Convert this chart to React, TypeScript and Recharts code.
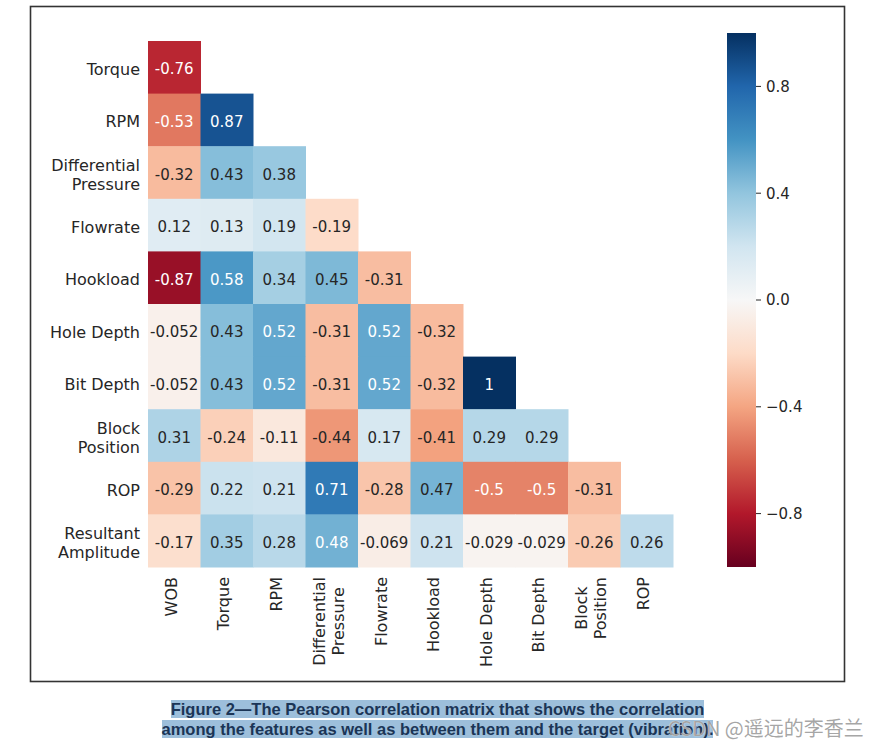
import React from 'react';
import { ScatterChart, Scatter, XAxis, YAxis, BarChart, Bar } from 'recharts';

// feature names (row = y axis, col = x axis)
const rowLabels = ['Torque', 'RPM', 'Differential\nPressure', 'Flowrate', 'Hookload', 'Hole Depth', 'Bit Depth', 'Block\nPosition', 'ROP', 'Resultant\nAmplitude'];
const colLabels = ['WOB', 'Torque', 'RPM', 'Differential\nPressure', 'Flowrate', 'Hookload', 'Hole Depth', 'Bit Depth', 'Block\nPosition', 'ROP'];

// lower triangle of the Pearson matrix, one array per row
const torqueRow = [-0.76];
const rpmRow = [-0.53, 0.87];
const diffPressureRow = [-0.32, 0.43, 0.38];
const flowrateRow = [0.12, 0.13, 0.19, -0.19];
const hookloadRow = [-0.87, 0.58, 0.34, 0.45, -0.31];
const holeDepthRow = [-0.052, 0.43, 0.52, -0.31, 0.52, -0.32];
const bitDepthRow = [-0.052, 0.43, 0.52, -0.31, 0.52, -0.32, 1];
const blockPositionRow = [0.31, -0.24, -0.11, -0.44, 0.17, -0.41, 0.29, 0.29];
const ropRow = [-0.29, 0.22, 0.21, 0.71, -0.28, 0.47, -0.5, -0.5, -0.31];
const amplitudeRow = [-0.17, 0.35, 0.28, 0.48, -0.069, 0.21, -0.029, -0.029, -0.26, 0.26];

const matrixRows = [torqueRow, rpmRow, diffPressureRow, flowrateRow, hookloadRow, holeDepthRow, bitDepthRow, blockPositionRow, ropRow, amplitudeRow];

const colorbarTicks = [-0.8, -0.4, 0, 0.4, 0.8];

// matplotlib RdBu
const RDBU = ['#67001f', '#b2182b', '#d6604d', '#f4a582', '#fddbc7', '#f7f7f7', '#d1e5f0', '#92c5de', '#4393c3', '#2166ac', '#053061'];

const hexToRgb = (h: string) => [1, 3, 5].map((i) => parseInt(h.slice(i, i + 2), 16));

const rdbu = (v: number) => {
  const t = Math.max(0, Math.min(1, (v + 1) / 2)) * 10;
  const i = Math.min(9, Math.floor(t));
  const f = t - i;
  const a = hexToRgb(RDBU[i]);
  const b = hexToRgb(RDBU[i + 1]);
  return a.map((c, k) => Math.round(c + (b[k] - c) * f));
};

const luminance = (rgb: number[]) => {
  const lin = rgb.map((c) => {
    const s = c / 255;
    return s <= 0.03928 ? s / 12.92 : Math.pow((s + 0.055) / 1.055, 2.4);
  });
  return 0.2126 * lin[0] + 0.7152 * lin[1] + 0.0722 * lin[2];
};

// python ".2g"
const fmt2g = (v: number) => {
  let s = v.toPrecision(2);
  if (s.includes('.')) s = s.replace(/0+$/, '').replace(/\.$/, '');
  return s;
};

const cells = matrixRows.flatMap((row, r) =>
  row.map((v, c) => ({ x: c + 0.5, y: r + 0.5, v }))
);

const FONT = '"DejaVu Sans", sans-serif';
const TEXT = '#262626';
const LABEL_SIZE = 16;

const CHART_W = 700;
const CHART_H = 680;
const MARGIN = { top: 41, right: 27, bottom: 13, left: 0 };
const Y_AXIS_W = 148;
const X_AXIS_H = 100;
const CELL_W = (CHART_W - MARGIN.left - MARGIN.right - Y_AXIS_W) / 10;
const CELL_H = (CHART_H - MARGIN.top - MARGIN.bottom - X_AXIS_H) / 10;

let ctx: CanvasRenderingContext2D | null = null;
const textWidth = (s: string) => {
  if (!ctx) {
    ctx = document.createElement('canvas').getContext('2d');
  }
  if (!ctx) return s.length * 9;
  ctx.font = `${LABEL_SIZE}px ${FONT}`;
  return ctx.measureText(s).width;
};

const CellShape = (props: any) => {
  const { cx, cy, payload } = props;
  const rgb = rdbu(payload.v);
  const txt = luminance(rgb) > 0.412 ? TEXT : '#ffffff';
  return (
    <g>
      <rect x={cx - CELL_W / 2} y={cy - CELL_H / 2} width={CELL_W + 0.5} height={CELL_H + 0.5} fill={`rgb(${rgb.join(',')})`} />
      <text x={cx} y={cy + 2} textAnchor="middle" dominantBaseline="central" fontSize={15} fontFamily={FONT} fill={txt}>
        {fmt2g(payload.v)}
      </text>
    </g>
  );
};

const YTick = (props: any) => {
  const { x, y, payload } = props;
  const lines = rowLabels[Math.floor(payload.value)].split('\n');
  return (
    <g>
      {lines.map((l, i) => (
        <text key={i} x={x} y={y + 2 + (i - (lines.length - 1) / 2) * 19} textAnchor="end" dominantBaseline="central" fontSize={LABEL_SIZE} fontFamily={FONT} fill={TEXT}>
          {l}
        </text>
      ))}
    </g>
  );
};

const XTick = (props: any) => {
  const { x, y, payload } = props;
  const lines = colLabels[Math.floor(payload.value)].split('\n');
  const top = y + 2;
  const block = Math.max(...lines.map(textWidth));
  return (
    <g>
      {lines.map((l, i) => {
        const lx = x - 3 + (i - (lines.length - 1) / 2) * 19;
        const ly = top + block / 2;
        return (
          <text key={i} x={lx} y={ly} transform={`rotate(-90, ${lx}, ${ly})`} textAnchor="middle" dominantBaseline="central" fontSize={LABEL_SIZE} fontFamily={FONT} fill={TEXT}>
            {l}
          </text>
        );
      })}
    </g>
  );
};

const cbData = [{ name: 'cb', range: [-1, 1] }];

const cbTickFmt = (v: number) => (v < 0 ? `\u2212${Math.abs(v).toFixed(1)}` : v.toFixed(1));

const App: React.FC = () => {
  const ticks = Array.from({ length: 10 }, (_, i) => i + 0.5);
  return (
    <div style={{ position: 'absolute', left: 0, top: 0, width: 875, height: 747, background: '#fff', overflow: 'hidden', fontFamily: FONT }}>
      <div style={{ position: 'absolute', left: 0, top: 0 }}>
        <ScatterChart width={CHART_W} height={CHART_H} margin={MARGIN}>
          <XAxis type="number" dataKey="x" domain={[0, 10]} ticks={ticks} interval={0} axisLine={false} tickLine={false} tickSize={6} height={X_AXIS_H} tick={<XTick />} />
          <YAxis type="number" dataKey="y" domain={[0, 10]} ticks={ticks} interval={0} reversed axisLine={false} tickLine={false} tickSize={6} width={Y_AXIS_W} tick={<YTick />} />
          <Scatter data={cells} shape={<CellShape />} isAnimationActive={false} />
        </ScatterChart>
      </div>

      {/* colorbar */}
      <div style={{ position: 'absolute', left: 727, top: 0 }}>
        <BarChart width={100} height={600} data={cbData} margin={{ top: 33, right: 0, bottom: 33, left: 0 }} barCategoryGap={0}>
          <defs>
            <linearGradient id="rdbu" x1="0" y1="1" x2="0" y2="0">
              {RDBU.map((c, i) => (
                <stop key={i} offset={`${i * 10}%`} stopColor={c} />
              ))}
            </linearGradient>
          </defs>
          <XAxis dataKey="name" hide />
          <YAxis orientation="right" type="number" domain={[-1, 1]} ticks={colorbarTicks} width={71} axisLine={false} tickSize={5} tickMargin={5} tickLine={{ stroke: TEXT }} tickFormatter={cbTickFmt} tick={{ fontSize: 15, fontFamily: FONT, fill: TEXT }} />
          <Bar dataKey="range" fill="url(#rdbu)" isAnimationActive={false} />
        </BarChart>
      </div>

      {/* frame */}
      <svg width={875} height={700} style={{ position: 'absolute', left: 0, top: 0, pointerEvents: 'none' }}>
        <rect x={30.5} y={6.5} width={814} height={675} fill="none" stroke="#333" strokeWidth={1.6} />
      </svg>

      {/* caption */}
      <div style={{ position: 'absolute', left: 0, top: 699, width: 875, textAlign: 'center', fontFamily: '"Liberation Sans", Arial, sans-serif', fontWeight: 'bold', fontSize: 16.5, lineHeight: '20px', color: '#1b3556' }}>
        <span style={{ background: '#9dbfdb' }}>Figure 2—The Pearson correlation matrix that shows the correlation</span>
        <br />
        <span style={{ background: '#9dbfdb' }}>among the features as well as between them and the target (vibration).</span>
      </div>

      {/* watermark */}
      <div style={{ position: 'absolute', left: 668, top: 715, fontFamily: '"Noto Sans CJK SC", "Noto Sans", sans-serif', fontSize: 20, lineHeight: '26px', color: 'rgba(150,150,150,0.85)', textShadow: '0 0 1px #fff', whiteSpace: 'nowrap' }}>
        CSDN @遥远的李香兰
      </div>
    </div>
  );
};

export default App;
